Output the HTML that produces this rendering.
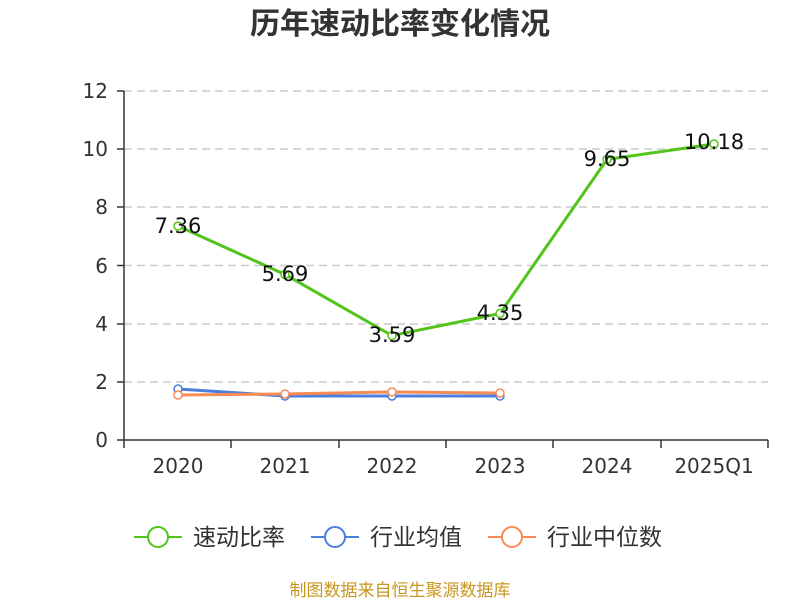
<!DOCTYPE html><html><head><meta charset="utf-8"><style>body{margin:0;background:#fff}</style></head><body>
<svg width="800" height="600" xmlns="http://www.w3.org/2000/svg" font-family="DejaVu Sans, Noto Sans CJK SC, sans-serif">
<text x="400" y="34" text-anchor="middle" font-size="30" font-weight="bold" fill="#333" font-family="Noto Sans CJK SC, sans-serif">历年速动比率变化情况</text>
<g stroke="#ccc" stroke-dasharray="8,5" stroke-width="1.5">
<line x1="124" x2="768" y1="91" y2="91"/><line x1="124" x2="768" y1="149" y2="149"/><line x1="124" x2="768" y1="207" y2="207"/><line x1="124" x2="768" y1="265.5" y2="265.5"/><line x1="124" x2="768" y1="324" y2="324"/><line x1="124" x2="768" y1="382" y2="382"/></g>
<g stroke="#333" stroke-width="1.5"><line x1="124" x2="124" y1="91" y2="440"/><line x1="124" x2="768" y1="440" y2="440"/>
<line x1="117" x2="124" y1="91" y2="91"/><line x1="117" x2="124" y1="149" y2="149"/><line x1="117" x2="124" y1="207" y2="207"/><line x1="117" x2="124" y1="265.5" y2="265.5"/><line x1="117" x2="124" y1="324" y2="324"/><line x1="117" x2="124" y1="382" y2="382"/><line x1="117" x2="124" y1="440" y2="440"/>
<line x1="124" x2="124" y1="440" y2="448"/><line x1="231" x2="231" y1="440" y2="448"/><line x1="339" x2="339" y1="440" y2="448"/><line x1="446" x2="446" y1="440" y2="448"/><line x1="553" x2="553" y1="440" y2="448"/><line x1="661" x2="661" y1="440" y2="448"/><line x1="768" x2="768" y1="440" y2="448"/></g>
<g font-size="20" fill="#333" text-anchor="end"><text x="108" y="98">12</text><text x="108" y="156">10</text><text x="108" y="214">8</text><text x="108" y="273">6</text><text x="108" y="331">4</text><text x="108" y="389">2</text><text x="108" y="447">0</text></g>
<g font-size="20" fill="#333" text-anchor="middle"><text x="178" y="473">2020</text><text x="285" y="473">2021</text><text x="392" y="473">2022</text><text x="500" y="473">2023</text><text x="607" y="473">2024</text><text x="714" y="473">2025Q1</text></g>
<polyline fill="none" stroke="#4a7fe0" stroke-width="3" points="178,389 285,396 392,396 500,396"/>
<polyline fill="none" stroke="#f98c55" stroke-width="3" points="178,395 285,394 392,392 500,393"/>
<g fill="#fff" stroke-width="1.5"><g stroke="#4a7fe0"><circle cx="178" cy="389" r="4"/><circle cx="285" cy="396" r="4"/><circle cx="392" cy="396" r="4"/><circle cx="500" cy="396" r="4"/></g>
<g stroke="#f98c55"><circle cx="178" cy="395" r="4"/><circle cx="285" cy="394" r="4"/><circle cx="392" cy="392" r="4"/><circle cx="500" cy="393" r="4"/></g></g>
<polyline fill="none" stroke="#52c41a" stroke-width="3" points="178,226 285,274.5 392,335.6 500,313.5 607,159.4 714,144"/>
<g fill="#fff" stroke="#52c41a" stroke-width="1.5"><circle cx="178" cy="226" r="4"/><circle cx="285" cy="274.5" r="4"/><circle cx="392" cy="335.6" r="4"/><circle cx="500" cy="313.5" r="4"/><circle cx="607" cy="159.4" r="4"/><circle cx="714" cy="144" r="4"/></g>
<g font-size="21" fill="#111" text-anchor="middle"><text x="178" y="233">7.36</text><text x="285" y="281">5.69</text><text x="392" y="342">3.59</text><text x="500" y="320">4.35</text><text x="607" y="166">9.65</text><text x="714" y="149">10.18</text></g>
<g stroke-width="2" fill="#fff"><line x1="134" x2="182" y1="537" y2="537" stroke="#52c41a"/><circle cx="158" cy="537" r="10" stroke="#52c41a"/>
<line x1="311" x2="359" y1="537" y2="537" stroke="#4a7fe0"/><circle cx="335" cy="537" r="10" stroke="#4a7fe0"/>
<line x1="488" x2="536" y1="537" y2="537" stroke="#f98c55"/><circle cx="512" cy="537" r="10" stroke="#f98c55"/></g>
<g font-size="23" fill="#333" font-family="Noto Sans CJK SC, sans-serif"><text x="193" y="545">速动比率</text><text x="370" y="545">行业均值</text><text x="547" y="545">行业中位数</text></g>
<text x="400" y="596" text-anchor="middle" font-size="17" fill="#c8961e" font-family="Noto Sans CJK SC, sans-serif">制图数据来自恒生聚源数据库</text>
</svg></body></html>
